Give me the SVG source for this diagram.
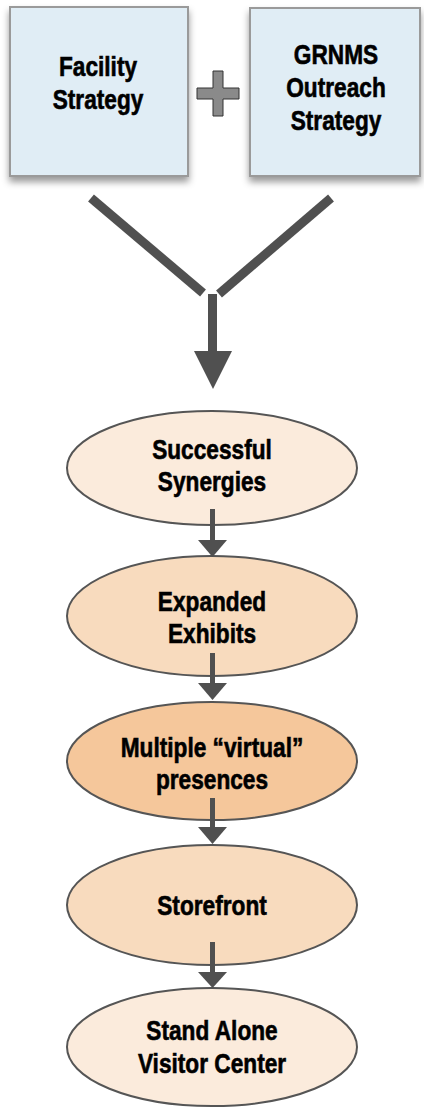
<svg xmlns="http://www.w3.org/2000/svg" width="424" height="1108" viewBox="0 0 424 1108">
<defs>
<style>
.box{fill:#E0EDF5;stroke:#9A9A9A;stroke-width:2}
.ell{stroke:#555555;stroke-width:2}
.light{fill:#FBEBDC}
.mid{fill:#F8DBBE}
.dark{fill:#F5C79B}
.t{font-family:"Liberation Sans",Arial,sans-serif;font-weight:bold;font-size:27px;fill:#000;stroke:#000;stroke-width:0.6;text-anchor:middle}
.bar{stroke:#505050;stroke-width:9;fill:none}
.shaft{stroke:#505050;stroke-width:5;fill:none}
.head{fill:#505050}
</style>
<filter id="sh" x="-10%" y="-10%" width="125%" height="130%">
<feDropShadow dx="0" dy="5" stdDeviation="3.5" flood-color="#000" flood-opacity="0.4"/>
</filter>
</defs>
<g id="facility">
<rect class="box" x="10" y="7" width="178" height="169" filter="url(#sh)"/>
<g transform="matrix(0.84 0 0 1 98 0)">
<text class="t" x="0" y="76">Facility</text>
<text class="t" x="0" y="109">Strategy</text>
</g>
</g>
<g id="plus">
<path d="M213 71 H223 V88 H239 V99 H223 V116 H213 V99 H197 V88 H213 Z" fill="#8A8A8A" stroke="#333" stroke-width="1"/>
</g>
<g id="outreach">
<rect class="box" x="250" y="8" width="170" height="168" filter="url(#sh)"/>
<g transform="matrix(0.84 0 0 1 336 0)">
<text class="t" x="0" y="64">GRNMS</text>
<text class="t" x="0" y="97">Outreach</text>
<text class="t" x="0" y="130">Strategy</text>
</g>
</g>
<g id="synergies">
<ellipse class="ell light" cx="212" cy="468" rx="145" ry="57"/>
<g transform="matrix(0.84 0 0 1 212 0)">
<text class="t" x="0" y="459">Successful</text>
<text class="t" x="0" y="491">Synergies</text>
</g>
</g>
<g id="exhibits">
<ellipse class="ell mid" cx="212" cy="616" rx="145" ry="60"/>
<g transform="matrix(0.84 0 0 1 212 0)">
<text class="t" x="0" y="611">Expanded</text>
<text class="t" x="0" y="643">Exhibits</text>
</g>
</g>
<g id="virtual">
<ellipse class="ell dark" cx="212" cy="761" rx="145" ry="59"/>
<g transform="matrix(0.84 0 0 1 212 0)">
<text class="t" x="0" y="757">Multiple “virtual”</text>
<text class="t" x="0" y="789">presences</text>
</g>
</g>
<g id="storefront">
<ellipse class="ell mid" cx="212" cy="905" rx="145" ry="60"/>
<g transform="matrix(0.84 0 0 1 212 0)">
<text class="t" x="0" y="915">Storefront</text>
</g>
</g>
<g id="visitor">
<ellipse class="ell light" cx="212" cy="1047" rx="145" ry="59"/>
<g transform="matrix(0.84 0 0 1 212 0)">
<text class="t" x="0" y="1040">Stand Alone</text>
<text class="t" x="0" y="1073">Visitor Center</text>
</g>
</g>
<g id="connectors">
<line class="bar" x1="91" y1="198" x2="203" y2="293"/>
<line class="bar" x1="331" y1="198" x2="219" y2="294"/>
<line class="bar" x1="212.5" y1="294" x2="212.5" y2="352"/>
<polygon class="head" points="194,351 232,351 213,389"/>
<line class="shaft" x1="212.5" y1="509" x2="212.5" y2="541"/>
<polygon class="head" points="198,540 227,540 212.5,557"/>
<line class="shaft" x1="212.5" y1="653" x2="212.5" y2="684"/>
<polygon class="head" points="198,683 227,683 212.5,700"/>
<line class="shaft" x1="212.5" y1="798" x2="212.5" y2="828"/>
<polygon class="head" points="198,827 227,827 212.5,844"/>
<line class="shaft" x1="212.5" y1="942" x2="212.5" y2="973"/>
<polygon class="head" points="198,972 227,972 212.5,988"/>
</g>
</svg>
